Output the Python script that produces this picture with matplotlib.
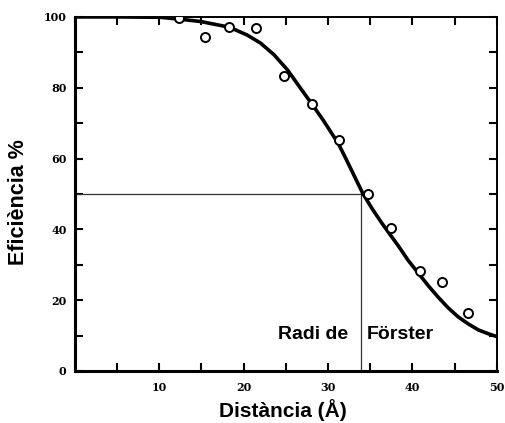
import numpy as np
import matplotlib
matplotlib.use("Agg")
import matplotlib.pyplot as plt
from matplotlib.ticker import MultipleLocator

# measured points
dist_pts = [12.3, 15.4, 18.3, 21.4, 24.8, 28.1, 31.3, 34.7, 37.4, 40.9, 43.5, 46.6]
eff_pts = [99.7, 94.4, 97.2, 96.9, 83.3, 75.4, 65.3, 50.0, 40.3, 28.3, 25.2, 16.4]

# drawn curve
curve_x = [0, 5, 10.1, 12.3, 14.9, 18.3, 20.4, 22.0, 23.6, 25.2, 26.6, 28.2, 29.4,
           30.3, 31.2, 32.1, 33.0, 34.1, 35.2, 36.3, 37.2, 38.3, 39.5, 40.7, 41.9,
           43.1, 44.2, 45.4, 46.6, 47.8, 49.0, 50]
curve_y = [100, 100, 99.9, 99.4, 98.7, 97.1, 94.9, 92.6, 89.3, 85, 80.3, 75, 70.9,
           67.6, 64.3, 60.0, 55.6, 50.2, 45.9, 42.0, 39.0, 35.4, 31.2, 27.6, 24.0,
           20.7, 17.9, 15.3, 13.3, 11.6, 10.5, 9.7]

r0 = 33.9
half = 50

fig = plt.figure(figsize=(5.06, 4.23), dpi=100)
ax = fig.add_axes([0.148, 0.123, 0.834, 0.837])

ax.plot(curve_x, curve_y, color="black", lw=2.6, solid_capstyle="round",
        solid_joinstyle="round", zorder=3)
ax.plot(dist_pts, eff_pts, "o", ms=6.5, mfc="white", mec="black", mew=1.4, zorder=4)

ax.plot([0, r0], [half, half], color="#333333", lw=0.9, zorder=2)
ax.plot([r0, r0], [0, half], color="#333333", lw=0.9, zorder=2)

ax.set_xlim(0, 50)
ax.set_ylim(0, 100)
ax.xaxis.set_minor_locator(MultipleLocator(5))
ax.yaxis.set_major_locator(MultipleLocator(20))
ax.yaxis.set_minor_locator(MultipleLocator(10))
ax.set_xticks([10, 20, 30, 40, 50])
ax.set_xticklabels(["10", "20", "30", "40", "50"])
ax.tick_params(which="both", direction="in", top=True, right=True, width=1.5,
               length=6, labelsize=8)
ax.tick_params(axis="x", pad=8)
ax.tick_params(axis="y", pad=6)
for lab in ax.get_xticklabels() + ax.get_yticklabels():
    lab.set_family("DejaVu Serif")
    lab.set_fontweight("bold")

ax.spines["left"].set_linewidth(2.2)
ax.spines["bottom"].set_linewidth(2.2)
ax.spines["top"].set_linewidth(1.4)
ax.spines["right"].set_linewidth(1.4)

ax.set_xlabel("Distància (Å)", fontsize=15, fontweight="bold",
              family="Liberation Sans")
ax.set_ylabel("Eficiència %", fontsize=15.5, fontweight="bold",
              family="Liberation Sans")
ax.xaxis.set_label_coords(0.493, -0.08)
ax.yaxis.set_label_coords(-0.108, 0.477)

ax.text(32.4, 10.2, "Radi de", ha="right", va="center", fontsize=14,
        fontweight="bold", family="Liberation Sans")
ax.text(34.6, 10.2, "Förster", ha="left", va="center", fontsize=14,
        fontweight="bold", family="Liberation Sans")

fig.savefig("out.png", dpi=100)
